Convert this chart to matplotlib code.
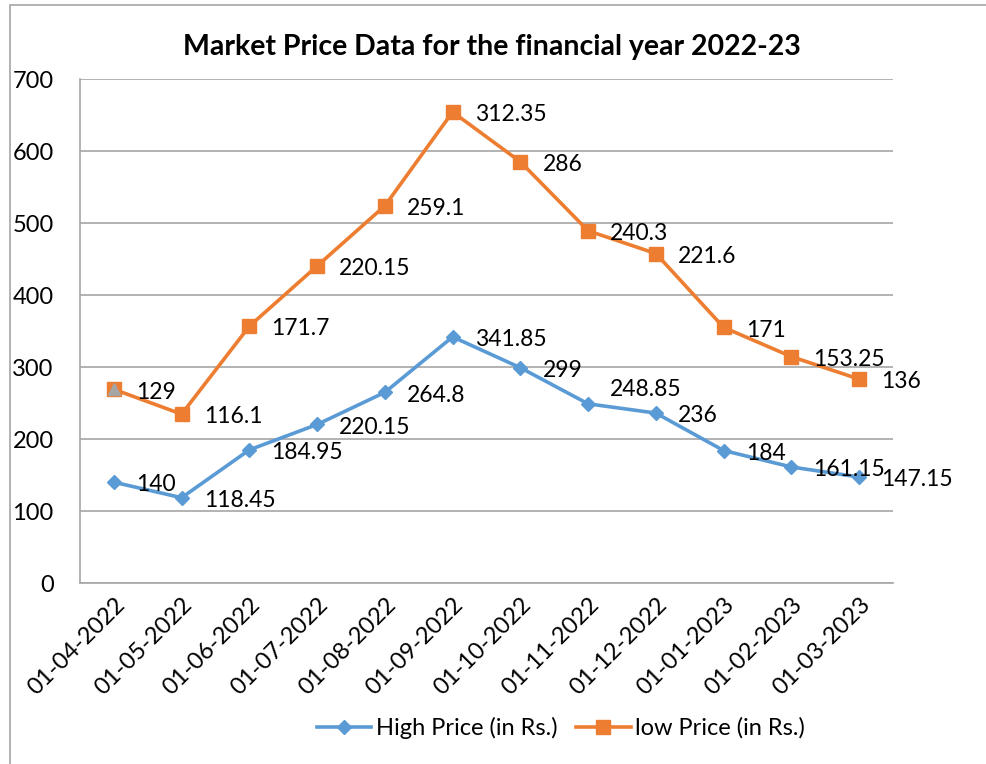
import matplotlib.pyplot as plt
from matplotlib.patches import Rectangle
import numpy as np

plt.rcParams['font.family'] = ['Lato', 'DejaVu Sans']

# Data
months = ['01-04-2022', '01-05-2022', '01-06-2022', '01-07-2022', '01-08-2022',
          '01-09-2022', '01-10-2022', '01-11-2022', '01-12-2022', '01-01-2023',
          '01-02-2023', '01-03-2023']
high_price = [140, 118.45, 184.95, 220.15, 264.8, 341.85, 299, 248.85, 236,
              184, 161.15, 147.15]
low_price = [129, 116.1, 171.7, 220.15, 259.1, 312.35, 286, 240.3, 221.6,
             171, 153.25, 136]
# stray third-series point shown on the first category
extra_point = [129]

blue = '#5B9BD5'
orange = '#ED7D31'
grid_c = '#A6A6A6'

x = np.arange(len(months))
high = np.array(high_price)
low_stacked = high + np.array(low_price)  # stacked line chart

fig = plt.figure(figsize=(9.87, 7.64), dpi=100)
ax = fig.add_axes([80 / 987, 1 - 583 / 764, 813 / 987, 504 / 764])

ax.plot(x, high, color=blue, lw=2.6, marker='D', ms=7.5, label='High Price (in Rs.)')
ax.plot(x, low_stacked, color=orange, lw=2.6, marker='s', ms=9.5, label='low Price (in Rs.)')
ax.plot(x[:len(extra_point)], high[:len(extra_point)] + np.array(extra_point),
        ls='none', marker='^', ms=9, color='#A5A5A5')

for i, (xi, yi, v) in enumerate(zip(x, high, high_price)):
    dy = 10 if i == 7 else -2  # the 248.85 label sits above its point
    ax.annotate(f'{v:g}', (xi, yi), xytext=(16, dy), textcoords='offset points',
                ha='left', va='center', fontsize=16.5)
for xi, yi, v in zip(x, low_stacked, low_price):
    ax.annotate(f'{v:g}', (xi, yi), xytext=(16, -2), textcoords='offset points',
                ha='left', va='center', fontsize=16.5)

ax.set_xlim(-0.5, len(months) - 0.5)
ax.set_ylim(0, 700)
ax.set_yticks(range(0, 701, 100))
ax.yaxis.grid(True, color=grid_c, lw=1.2)
ax.set_axisbelow(True)
ax.set_xticks(x)
ax.set_xticklabels(months, rotation=45, ha='right', rotation_mode='anchor', fontsize=17)
ax.tick_params(axis='y', labelsize=17, length=0, pad=19)
ax.tick_params(axis='x', length=0, pad=8)
for s in ['top', 'right']:
    ax.spines[s].set_visible(False)
for s in ['left', 'bottom']:
    ax.spines[s].set_color(grid_c)
    ax.spines[s].set_linewidth(1.2)

fig.text(492 / 987, 1 - 47 / 764, 'Market Price Data for the financial year 2022-23',
         ha='center', va='center', fontsize=20.5, fontweight='bold')

fig.legend(loc='center', bbox_to_anchor=(561 / 987, 1 - 728 / 764), ncol=2,
           frameon=False, fontsize=17, handlelength=2.3, columnspacing=0.8,
           handletextpad=0.2)

fig.patches.append(Rectangle((10 / 987, -0.1), 1.2, 1.1 - 5 / 764,
                             transform=fig.transFigure, fill=False,
                             edgecolor='#A6A6A6', lw=1.2))

fig.savefig('out.png', dpi=100)
